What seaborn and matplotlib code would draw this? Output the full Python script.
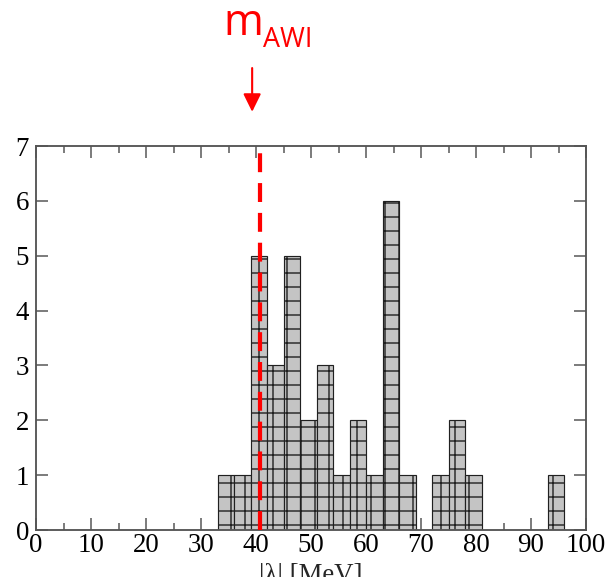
import numpy as np
import pandas as pd
import matplotlib
matplotlib.use("Agg")
import matplotlib.pyplot as plt
import seaborn as sns

# Histogram of |lambda| values: 3 MeV bins from 33 to 96 MeV
bin_left = [33, 36, 39, 42, 45, 48, 51, 54, 57, 60, 63, 66, 72, 75, 78, 93]
counts = [1, 1, 5, 3, 5, 2, 3, 1, 2, 1, 6, 1, 1, 2, 1, 1]
bin_width = 3
m_awi = 40.8          # position of the m_AWI marker line
arrow_x = 39.3        # x of the label arrow above the frame

x_ticks = [0, 10, 20, 30, 40, 50, 60, 70, 80, 90, 100]
y_ticks = [0, 1, 2, 3, 4, 5, 6, 7]

df = pd.DataFrame({"lam": [b + bin_width / 2 for b in bin_left], "n": counts})

sns.set_style("ticks")
plt.rcParams["font.family"] = ["Liberation Serif", "DejaVu Serif"]
plt.rcParams["hatch.linewidth"] = 1.2
plt.rcParams["hatch.color"] = "black"

DPI = 84
fig = plt.figure(figsize=(614 / DPI, 577 / DPI), dpi=DPI)
ax = fig.add_axes([36 / 614, 1 - 530 / 577, 550 / 614, 384 / 577])

sns.histplot(data=df, x="lam", weights="n", binwidth=bin_width,
             binrange=(bin_left[0], bin_left[-1] + bin_width), ax=ax,
             color="#c4c4c4", alpha=1.0, edgecolor="black", linewidth=1.0)
for p in ax.patches:
    p.set_hatch("+")
    p.set_edgecolor("#202020")
    if p.get_height() == 0:
        p.set_visible(False)

ax.axvline(m_awi, color="red", lw=3.6, dashes=(4.5, 2.6), zorder=5)

ax.set_xlim(0, 100)
ax.set_ylim(0, 7)
ax.set_xticks(x_ticks)
ax.set_xticks(np.arange(5, 100, 10), minor=True)
ax.set_yticks(y_ticks)
ax.tick_params(which="both", direction="in", top=True, right=True,
               colors="#555555", labelcolor="black", labelsize=23, width=1.3)
ax.tick_params(which="major", length=10)
ax.tick_params(which="minor", length=6)
ax.tick_params(axis="x", which="major", pad=3)
ax.tick_params(axis="y", which="major", pad=6)
for s in ax.spines.values():
    s.set_color("#555555")
    s.set_linewidth(1.6)
ax.set_ylabel("")
ax.set_xlabel("|λ| [MeV]", fontsize=23, labelpad=4)

# m_AWI label with arrow pointing at the marker
trans = ax.get_xaxis_transform()
ax.text(34.0, 1.289, "m", transform=trans, color="red", fontsize=37,
        family="Open Sans", ha="left", va="baseline")
ax.text(41.3, 1.258, "AWI", transform=trans, color="red", fontsize=23,
        family="Open Sans", ha="left", va="baseline")
ax.annotate("", xy=(arrow_x, 1.089), xytext=(arrow_x, 1.203),
            xycoords=trans, textcoords=trans, annotation_clip=False,
            arrowprops=dict(arrowstyle="-|>,head_length=1.3,head_width=0.64",
                            color="red", lw=1.8, mutation_scale=10,
                            shrinkA=0, shrinkB=0))

fig.savefig("out.png", dpi=DPI)
